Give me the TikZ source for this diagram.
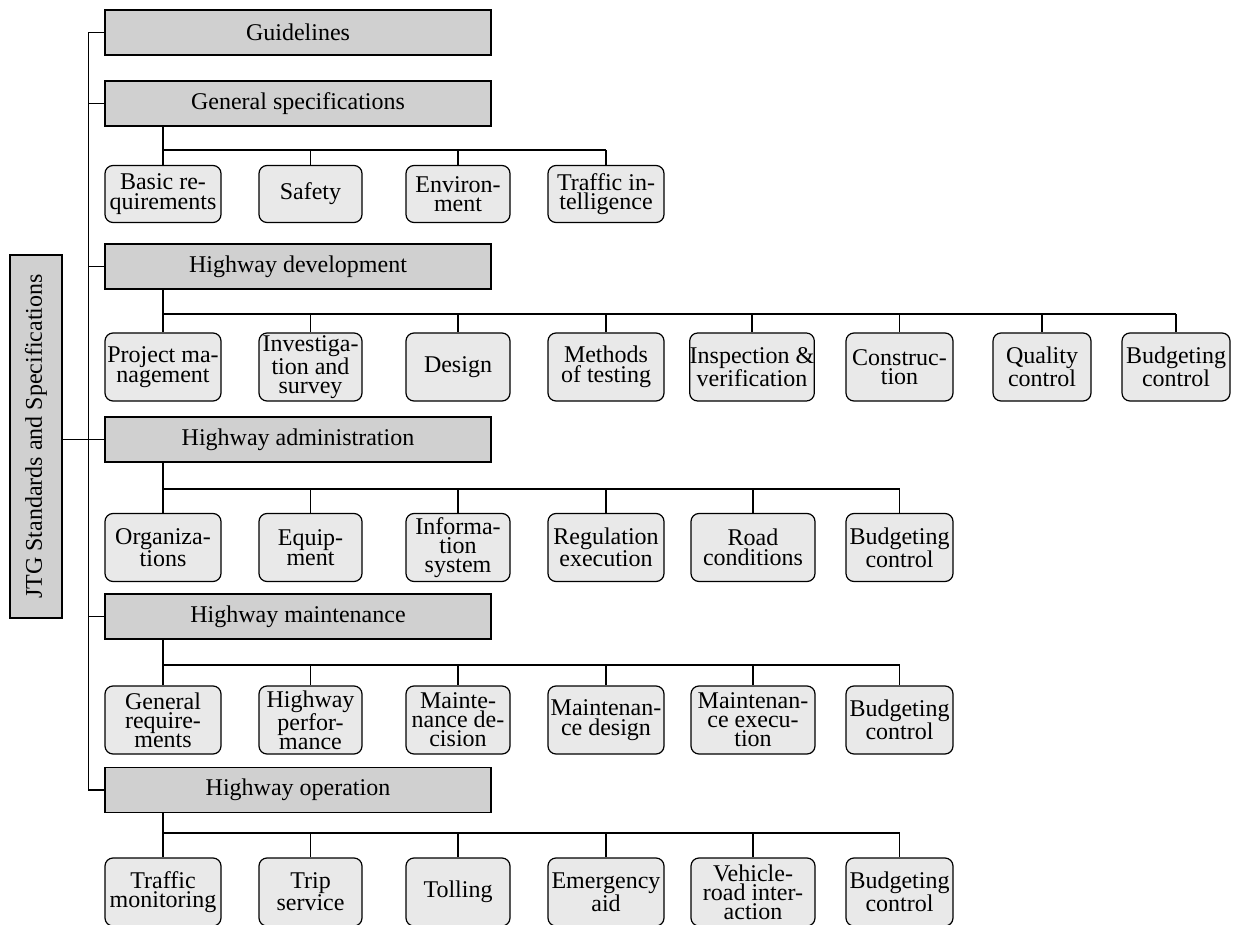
\documentclass[tikz,border=0pt]{standalone}
\usepackage{fontspec}
\setmainfont{Liberation Serif}
\definecolor{catfill}{RGB}{208,208,208}
\definecolor{kidfill}{RGB}{233,233,233}
\tikzset{
  line/.style={draw=black, line width=1.2pt},
  rootbox/.style={draw=black, line width=1.2pt, fill=catfill, minimum width=52pt, minimum height=363pt, inner sep=0pt},
  catbox/.style={draw=black, line width=1.2pt, fill=catfill, minimum width=386pt, minimum height=45pt, inner sep=0pt, font=\fontsize{24}{19}\selectfont},
  kid/.style={draw=black, line width=1.2pt, fill=kidfill, rounded corners=8pt, minimum height=68pt, inner sep=0pt, align=center, font=\fontsize{24}{19.5}\selectfont},
  kidthree/.style={kid, font=\fontsize{24}{19}\selectfont},
  wA/.style={minimum width=116pt},
  wB/.style={minimum width=103pt},
  wC/.style={minimum width=104pt},
  wD/.style={minimum width=116pt},
  wE/.style={minimum width=124pt},
  wF/.style={minimum width=107pt},
  wG/.style={minimum width=98pt},
  wH/.style={minimum width=108pt}
}
\begin{document}
\begin{tikzpicture}[x=1pt,y=-1pt]
\useasboundingbox (0,0) rectangle (1237,925);
\fill[white] (0,0) rectangle (1237,925);

% root
\node[rootbox] (root) at (36,436.5) {};
\node[rotate=90, font=\fontsize{24}{19}\selectfont] (roottext) at (root.center) {JTG Standards and Specifications};

% categories
\node[catbox] (guide) at (298,32.5) {Guidelines};
\node[catbox] (gen) at (298,103.5) {General specifications};
\node[catbox] (dev) at (298,266.5) {Highway development};
\node[catbox] (adm) at (298,439.5) {Highway administration};
\node[catbox] (mnt) at (298,616.5) {Highway maintenance};
\node[catbox] (opr) at (298,790) {Highway operation};

% general specification children
\node[kid, wA, minimum height=57pt] (g1) at (163,194) {Basic re-\\quirements};
\node[kid, wB, minimum height=57pt] (g2) at (310.5,194) {Safety};
\node[kid, wC, minimum height=57pt] (g3) at (458,194) {Environ-\\ment};
\node[kid, wD, minimum height=57pt] (g4) at (606,194) {Traffic in-\\telligence};

% development children
\node[kid, wA] (d1) at (163,367) {Project ma-\\nagement};
\node[kidthree, wB] (d2) at (310.5,367) {Investiga-\\tion and\\survey};
\node[kid, wC] (d3) at (458,367) {Design};
\node[kid, wD] (d4) at (606,367) {Methods\\of testing};
\node[kid, wE] (d5) at (752,367) {Inspection \&\\verification};
\node[kid, wF] (d6) at (899.5,367) {Construc-\\tion};
\node[kid, wG] (d7) at (1042,367) {Quality\\control};
\node[kid, wH] (d8) at (1176,367) {Budgeting\\control};

% administration children
\node[kid, wA] (a1) at (163,547.5) {Organiza-\\tions};
\node[kid, wB] (a2) at (310.5,547.5) {Equip-\\ment};
\node[kidthree, wC] (a3) at (458,547.5) {Informa-\\tion\\system};
\node[kid, wD] (a4) at (606,547.5) {Regulation\\execution};
\node[kid, wE] (a5) at (753,547.5) {Road\\conditions};
\node[kid, wF] (a6) at (899.5,547.5) {Budgeting\\control};

% maintenance children
\node[kidthree, wA] (m1) at (163,720) {General\\require-\\ments};
\node[kidthree, wB] (m2) at (310.5,720) {Highway\\perfor-\\mance};
\node[kidthree, wC] (m3) at (458,720) {Mainte-\\nance de-\\cision};
\node[kid, wD] (m4) at (606,720) {Maintenan-\\ce design};
\node[kidthree, wE] (m5) at (753,720) {Maintenan-\\ce execu-\\tion};
\node[kid, wF] (m6) at (899.5,720) {Budgeting\\control};

% operation children
\node[kid, wA] (o1) at (163,892) {Traffic\\monitoring};
\node[kid, wB] (o2) at (310.5,892) {Trip\\service};
\node[kid, wC] (o3) at (458,892) {Tolling};
\node[kid, wD] (o4) at (606,892) {Emergency\\aid};
\node[kidthree, wE] (o5) at (753,892) {Vehicle-\\road inter-\\action};
\node[kid, wF] (o6) at (899.5,892) {Budgeting\\control};

% trunk
\draw[line] (guide.west) -- ++(-16,0) |- (opr.west);
\foreach \c in {gen,dev,mnt} \draw[line] (\c.west) -- ++(-16,0);
\draw[line] (root.east |- adm.west) -- (adm.west);

% buses
\coordinate (gbus) at (0,150);
\coordinate (dbus) at (0,314);
\coordinate (abus) at (0,489);
\coordinate (mbus) at (0,665);
\coordinate (obus) at (0,833);

\draw[line] (gen.south -| g1.north) -- (g1.north);
\draw[line] (g1.north |- gbus) -- (g4.north |- gbus);
\foreach \k in {g2,g3,g4} \draw[line] (\k.north |- gbus) -- (\k.north);

\draw[line] (dev.south -| d1.north) -- (d1.north);
\draw[line] (d1.north |- dbus) -- (d8.north |- dbus);
\foreach \k in {d2,d3,d4,d5,d6,d7,d8} \draw[line] (\k.north |- dbus) -- (\k.north);

\draw[line] (adm.south -| a1.north) -- (a1.north);
\draw[line] (a1.north |- abus) -- (a6.north |- abus);
\foreach \k in {a2,a3,a4,a5,a6} \draw[line] (\k.north |- abus) -- (\k.north);

\draw[line] (mnt.south -| m1.north) -- (m1.north);
\draw[line] (m1.north |- mbus) -- (m6.north |- mbus);
\foreach \k in {m2,m3,m4,m5,m6} \draw[line] (\k.north |- mbus) -- (\k.north);

\draw[line] (opr.south -| o1.north) -- (o1.north);
\draw[line] (o1.north |- obus) -- (o6.north |- obus);
\foreach \k in {o2,o3,o4,o5,o6} \draw[line] (\k.north |- obus) -- (\k.north);
\end{tikzpicture}
\end{document}
